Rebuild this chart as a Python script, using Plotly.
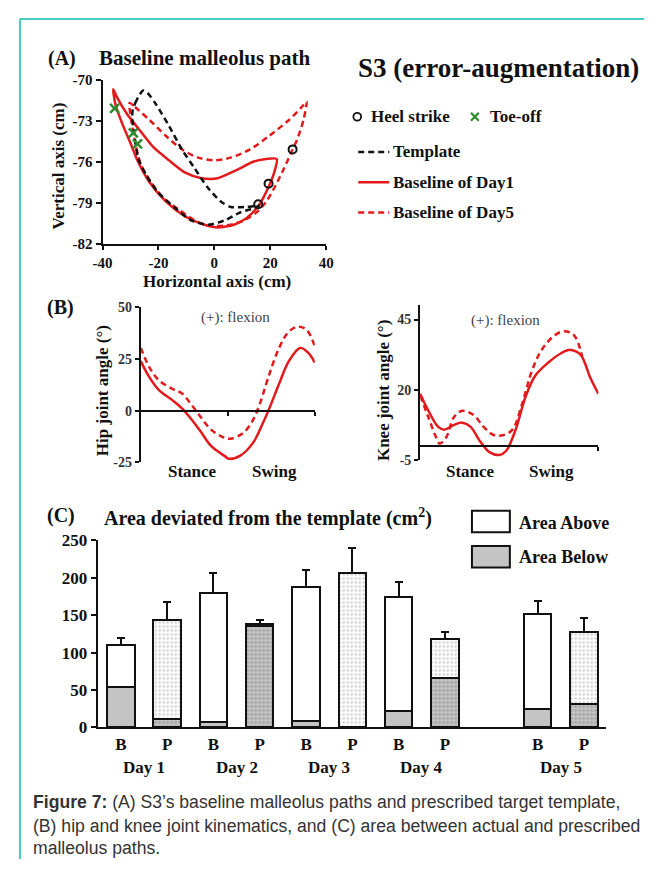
import plotly.graph_objects as go

# ---------------- data ----------------
# Panel A: malleolus paths (cm)
template_x = [-25.5, -27.8, -29.2, -29.4, -28.7, -27.2, -24.3, -20.3, -13.9, -8.1, -2.3, 3.5, 9.3, 13.9, 16.0,
              11.6, 5.8, 2.3, -2.3, -7.0, -11.6, -16.2, -20.9, -23.8, -25.5]
template_y = [-70.8, -71.5, -72.2, -72.8, -73.9, -75.8, -77.0, -78.2, -79.4, -80.3, -80.6, -80.3, -79.7, -79.4, -79.2,
              -79.3, -79.3, -78.9, -77.9, -76.5, -75.1, -73.4, -71.8, -71.0, -70.8]
day1_x = [-36.2, -35.4, -33.0, -30.1, -27.3, -23.2, -17.4, -10.4, -3.5, 1.2, 7.0, 11.6, 16.2, 19.7, 21.4, 22.3,
          18.6, 13.9, 8.1, 1.2, -4.6, -10.4, -16.2, -22.0, -26.7, -31.3, -34.8, -36.2]
day1_y = [-70.7, -71.8, -73.2, -74.6, -76.0, -77.5, -78.9, -80.0, -80.6, -80.8, -80.6, -80.1, -79.1, -77.7, -76.8, -75.8,
          -75.8, -76.0, -76.6, -77.2, -77.2, -76.8, -75.9, -74.9, -73.7, -72.5, -71.3, -70.7]
day5_x = [-30.3, -28.4, -23.2, -17.4, -11.6, -5.8, 0.0, 5.8, 12.8, 19.7, 26.7, 31.3, 33.0, 31.9, 29.6, 28.0, 24.9,
          22.0, 18.6, 15.1, 10.4, 5.8, -0.5, -6.0, -12.0, -18.0, -23.0, -26.3, -28.0, -29.4, -30.3]
day5_y = [-71.7, -72.0, -72.95, -74.1, -75.1, -75.7, -75.9, -75.7, -75.1, -74.1, -72.95, -72.0, -71.6, -72.95, -74.4,
          -75.1, -76.5, -77.7, -78.9, -79.7, -80.3, -80.6, -80.7, -80.4, -79.6, -78.7, -77.4, -76.2, -74.9, -73.4, -71.7]
heel_x = [15.7, 19.4, 28.0]
heel_y = [-79.1, -77.6, -75.1]
toe_x = [-35.7, -29.0, -27.5]
toe_y = [-72.1, -73.9, -74.7]
a_xticks = [-40, -20, 0, 20, 40]
a_yticks = [-70, -73, -76, -79, -82]

# Panel B: joint angles (% gait cycle, degrees)
hip1_x = [0, 5, 10.6, 18.1, 23.7, 29.3, 34.9, 40.4, 47.9, 50.7, 57.2, 64.6, 70.2, 73.9, 79.5, 85.1, 91.6, 96.3, 100]
hip1_y = [24, 16.1, 9.8, 5.1, 1.1, -4.4, -10.7, -17.1, -21.8, -23.3, -21.8, -15.5, -6.0, 1.1, 13.0, 24.0, 30.4, 28.0, 23.3]
hip5_x = [0, 5, 10.6, 18.1, 23.7, 29.3, 34.9, 40.4, 47.9, 51.6, 59.0, 64.6, 68.5, 73.9, 79.5, 85.1, 90.7, 95.4, 100]
hip5_y = [30.4, 20.9, 14.6, 10.6, 8.3, 2.7, -3.6, -9.2, -13.1, -13.6, -10.7, -4.4, 3.5, 17.7, 30.4, 38.3, 40.7, 39.1, 31.2]
knee1_x = [0, 4.5, 10, 13.6, 19.1, 23.6, 28.2, 33.6, 39.1, 44.5, 48.2, 53.6, 59.1, 64.5, 71.8, 79.1, 84.5, 90, 95.5, 100]
knee1_y = [18.6, 12.7, 6.9, 5.8, 7.5, 8.3, 6.9, 1.7, -2.3, -3.2, -1.8, 5.8, 17.4, 24.9, 29.6, 33.0, 34.2, 32.5, 24.3, 18.6]
knee5_x = [0, 4.5, 9.1, 10.9, 14.5, 19.1, 23.6, 30, 35.5, 40.9, 46.4, 51.8, 57.3, 62.7, 68.2, 75.5, 80.9, 86.4, 90.9]
knee5_y = [18.0, 10.4, 2.9, 0.9, 2.9, 10.4, 12.5, 11.0, 6.9, 4.0, 3.8, 5.8, 15.1, 26.7, 34.2, 39.4, 40.8, 39.4, 31.9]
hip_yticks = [-25, 0, 25, 50]
knee_yticks = [-5, 20, 45]

# Panel C: area deviated from template (cm^2)
bar_pos = [0, 1, 2, 3, 4, 5, 6, 7, 9, 10]
bar_labels = ["B", "P", "B", "P", "B", "P", "B", "P", "B", "P"]
area_below = [54, 11, 7, 135, 9, 0, 22, 66, 24, 31]
area_above = [56, 133, 173, 3, 179, 207, 153, 52, 128, 97]
area_sd = [10, 23, 26, 5, 22, 33, 19, 10, 17, 18]
day_names = ["Day 1", "Day 2", "Day 3", "Day 4", "Day 5"]
c_yticks = [0, 50, 100, 150, 200, 250]

# ---------------- style ----------------
# The page body keeps its default 8px margin, so the figure is sized to fit
# the 660x877 window exactly and positions are given in window pixels.
OFF = 8
W, H = 660 - 2 * OFF, 877 - 2 * OFF
def fx(p): return (p - OFF) / W
def fy(p): return 1 - (p - OFF) / H

SERIF = "Liberation Serif, Times New Roman, serif"
SANS = "Liberation Sans, Arial, sans-serif"
RED = "#e31a1c"
INK = "#111111"
DASH = "6px,4px"

fig = go.Figure()

# Panel A traces
fig.add_trace(go.Scatter(x=day1_x, y=day1_y, mode="lines", line=dict(color=RED, width=2.5, shape="spline", smoothing=0.7),
                         xaxis="x", yaxis="y"))
fig.add_trace(go.Scatter(x=day5_x, y=day5_y, mode="lines", line=dict(color=RED, width=2.5, dash=DASH, shape="spline", smoothing=0.7),
                         xaxis="x", yaxis="y"))
fig.add_trace(go.Scatter(x=template_x, y=template_y, mode="lines", line=dict(color=INK, width=2.5, dash=DASH, shape="spline", smoothing=0.7),
                         xaxis="x", yaxis="y"))
fig.add_trace(go.Scatter(x=heel_x, y=heel_y, mode="markers",
                         marker=dict(symbol="circle-open", size=8, color=INK, line=dict(width=2)), xaxis="x", yaxis="y"))
fig.add_trace(go.Scatter(x=toe_x, y=toe_y, mode="markers",
                         marker=dict(symbol="x-thin-open", size=9, color="#2e8b2e", line=dict(width=2.5)), xaxis="x", yaxis="y"))

# Panel B traces
fig.add_trace(go.Scatter(x=hip1_x, y=hip1_y, mode="lines", line=dict(color=RED, width=2.5, shape="spline"), xaxis="x2", yaxis="y2"))
fig.add_trace(go.Scatter(x=hip5_x, y=hip5_y, mode="lines", line=dict(color=RED, width=2.5, dash=DASH, shape="spline"), xaxis="x2", yaxis="y2"))
fig.add_trace(go.Scatter(x=knee1_x, y=knee1_y, mode="lines", line=dict(color=RED, width=2.5, shape="spline"), xaxis="x3", yaxis="y3"))
fig.add_trace(go.Scatter(x=knee5_x, y=knee5_y, mode="lines", line=dict(color=RED, width=2.5, dash=DASH, shape="spline"), xaxis="x3", yaxis="y3"))

# Panel C bars
def pick(seq, want):
    return [v for v, lab in zip(seq, bar_labels) if lab == want]

for lab in ["B", "P"]:
    xs = pick(bar_pos, lab)
    below = pick(area_below, lab)
    above = pick(area_above, lab)
    sd = pick(area_sd, lab)
    if lab == "B":
        pb = dict(shape="")
        pa = dict(shape="")
    else:
        pb = dict(shape=".", fillmode="overlay", fgcolor="#7a7a7a", size=4, solidity=0.35)
        pa = dict(shape=".", fillmode="overlay", fgcolor="#9a9a9a", size=4, solidity=0.3)
    fig.add_trace(go.Bar(x=xs, y=below, width=0.59, xaxis="x4", yaxis="y4",
                         marker=dict(color="#c4c4c4", line=dict(color=INK, width=2), pattern=pb)))
    fig.add_trace(go.Bar(x=xs, y=above, width=0.59, xaxis="x4", yaxis="y4",
                         marker=dict(color="#ffffff", line=dict(color=INK, width=2), pattern=pa),
                         error_y=dict(type="data", array=sd, arrayminus=[0] * len(sd), symmetric=False,
                                      color=INK, thickness=2, width=4)))

# ---------------- axes ----------------
def axis(**kw):
    base = dict(showgrid=False, zeroline=False, showline=True, linecolor=INK, linewidth=2,
                ticks="outside", tickcolor=INK, tickwidth=2, ticklen=5,
                tickfont=dict(family=SERIF, size=15, color=INK, weight="bold"))
    base.update(kw)
    return base

fig.update_layout(
    width=W, height=H, margin=dict(l=0, r=0, t=0, b=0),
    paper_bgcolor="white", plot_bgcolor="rgba(0,0,0,0)", showlegend=False, barmode="stack",
    xaxis=axis(domain=[fx(95), fx(325)], range=[-40, 40], anchor="y", ticklen=4,
               tickvals=a_xticks, ticktext=[str(v) for v in a_xticks]),
    yaxis=axis(domain=[fy(240), fy(72)], range=[-82, -70], anchor="x",
               tickvals=a_yticks, ticktext=[str(v) for v in a_yticks]),
    xaxis2=axis(domain=[fx(134.3), fx(313.3)], range=[0, 100], anchor="free", position=fy(410.7),
                tickvals=[50, 100], showticklabels=False, ticklen=4),
    yaxis2=axis(domain=[fy(463.3), fy(305)], range=[-25, 50], anchor="x2",
                tickvals=hip_yticks, ticktext=[str(v) for v in hip_yticks], ticklen=4,
                tickfont=dict(family=SERIF, size=14, color="#333", weight="bold")),
    xaxis3=axis(domain=[fx(421.7), fx(605)], range=[0, 100], anchor="free", position=fy(446.6),
                tickvals=[100], showticklabels=False, ticklen=4),
    yaxis3=axis(domain=[fy(461), fy(303)], range=[-5, 50], anchor="x3",
                tickvals=knee_yticks, ticktext=[str(v) for v in knee_yticks], ticklen=4,
                tickfont=dict(family=SERIF, size=14, color="#333", weight="bold")),
    xaxis4=axis(domain=[fx(90), fx(613)], range=[-0.5, 10.48], anchor="y4", ticks="",
                tickvals=bar_pos, ticktext=bar_labels,
                tickfont=dict(family=SERIF, size=17, color=INK, weight="bold")),
    yaxis4=axis(domain=[fy(734.3), fy(543.3)], range=[0, 250], anchor="x4",
                tickvals=c_yticks, ticktext=[str(v) for v in c_yticks], ticklen=5,
                tickfont=dict(family=SERIF, size=17, color=INK, weight="bold")),
)

# ---------------- text ----------------
ann = []
def txt(x, y, s, size, xanchor="left", bold=True, color=INK, family=SERIF, angle=0, xref="paper", xval=None):
    ann.append(dict(x=fx(x) if xval is None else xval, y=fy(y), xref=xref, yref="paper",
                    text=("<b>%s</b>" % s) if bold else s, showarrow=False,
                    xanchor=xanchor, yanchor="middle", textangle=angle,
                    font=dict(family=family, size=size, color=color)))

txt(37, 50, "(A)", 20)
txt(89, 50, "Baseline malleolus path", 21)
txt(356, 60, "S3 (error-augmentation)", 27)
txt(213, 278, "Horizontal axis (cm)", 17, xanchor="center")
txt(50, 160, "Vertical axis (cm)", 17, xanchor="center", angle=-90)
txt(369, 110, "Heel strike", 17)
txt(492, 110, "Toe-off", 17)
txt(392, 146, "Template", 17)
txt(392, 177, "Baseline of Day1", 17)
txt(392, 208, "Baseline of Day5", 17)

txt(36, 305, "(B)", 20)
txt(95, 390, "Hip joint angle (°)", 17, xanchor="center", angle=-90)
txt(232, 315, "(+): flexion", 15, xanchor="center", bold=False, color="#444")
txt(188, 473, "Stance", 17, xanchor="center")
txt(272, 473, "Swing", 17, xanchor="center")
txt(384, 390, "Knee joint angle (°)", 17, xanchor="center", angle=-90)
txt(510, 318, "(+): flexion", 15, xanchor="center", bold=False, color="#444")
txt(473, 473, "Stance", 17, xanchor="center")
txt(557, 473, "Swing", 17, xanchor="center")

txt(36, 518, "(C)", 20)
txt(94, 520, "Area deviated from the template (cm<sup>2</sup>)", 20)
txt(521, 525, "Area Above", 18)
txt(521, 560, "Area Below", 18)
for i, name in enumerate(day_names):
    xs = [p for p in bar_pos][2 * i: 2 * i + 2]
    txt(0, 775, name, 17, xanchor="center", xref="x4", xval=sum(xs) / 2)

cap_col = "#333333"
txt(21, 811, "Figure 7:</b> (A) S3’s baseline malleolus paths and prescribed target template,<b>", 17.6, family=SANS, color=cap_col)
txt(21, 835, "(B) hip and knee joint kinematics, and (C) area between actual and prescribed", 17.6, bold=False, family=SANS, color=cap_col)
txt(21, 858, "malleolus paths.", 17.6, bold=False, family=SANS, color=cap_col)
fig.update_layout(annotations=ann)

# ---------------- shapes (frame + manual legends) ----------------
shapes = []
def pline(x0, y0, x1, y1, color, width=2, dash=None):
    d = dict(type="line", xref="paper", yref="paper", x0=fx(x0), y0=fy(y0), x1=fx(x1), y1=fy(y1),
             line=dict(color=color, width=width))
    if dash:
        d["line"]["dash"] = dash
    shapes.append(d)

TEAL = "#46cdbf"
pline(10, 10, 652, 10, TEAL, 2)
pline(10, 10, 10, 869, TEAL, 2)
# heel strike / toe-off glyphs
shapes.append(dict(type="circle", xref="paper", yref="paper", x0=fx(353), x1=fx(361), y0=fy(114), y1=fy(106),
                   line=dict(color=INK, width=1.8)))
pline(474, 106, 482, 114, "#2e8b2e", 2.2)
pline(474, 114, 482, 106, "#2e8b2e", 2.2)
pline(358, 146, 390, 146, INK, 2.5, DASH)
pline(358, 177, 390, 177, RED, 2.5)
pline(358, 208, 390, 208, RED, 2.5, DASH)
# bar legend boxes
shapes.append(dict(type="rect", xref="paper", yref="paper", x0=fx(475), x1=fx(514), y0=fy(535), y1=fy(513),
                   fillcolor="white", line=dict(color=INK, width=2)))
shapes.append(dict(type="rect", xref="paper", yref="paper", x0=fx(475), x1=fx(514), y0=fy(571), y1=fy(549),
                   fillcolor="#c4c4c4", line=dict(color=INK, width=2)))
fig.update_layout(shapes=shapes)

fig.write_html("out.html", config={"displayModeBar": False})
